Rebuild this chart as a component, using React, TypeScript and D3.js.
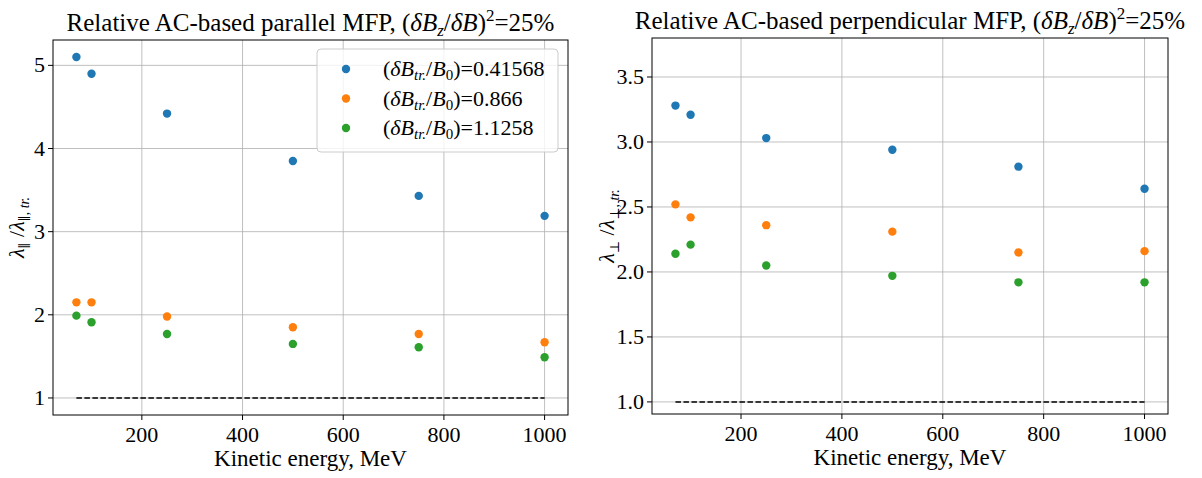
import React from "react";
import * as d3 from "d3";

const energies = [70, 100, 250, 500, 750, 1000];
const parBlue = [5.1, 4.9, 4.42, 3.85, 3.43, 3.19];
const parOrange = [2.15, 2.15, 1.98, 1.85, 1.77, 1.67];
const parGreen = [1.99, 1.91, 1.77, 1.65, 1.61, 1.49];
const perpBlue = [3.28, 3.21, 3.03, 2.94, 2.81, 2.64];
const perpOrange = [2.52, 2.42, 2.36, 2.31, 2.15, 2.16];
const perpGreen = [2.14, 2.21, 2.05, 1.97, 1.92, 1.92];
const xTicks = [200, 400, 600, 800, 1000];
const parYTicks = [1, 2, 3, 4, 5];
const perpYTicks = [1.0, 1.5, 2.0, 2.5, 3.0, 3.5];
const legendValues = ["0.41568", "0.866", "1.1258"];
const colors = ["#1f77b4", "#ff7f0e", "#2ca02c"];
const FONT = "'Liberation Serif', 'DejaVu Serif', serif";

function Panel({ left, right, top, bottom, yDomain, yTicks, fmt, series, title, ylabel, ylabelX, legend }: any) {
  const x = d3.scaleLinear().domain([23.5, 1046.5]).range([left, right]);
  const y = d3.scaleLinear().domain(yDomain).range([bottom, top]);
  const cx = (left + right) / 2;
  return (
    <g fontFamily={FONT} fill="#000">
      {xTicks.map((t) => (
        <g key={"x" + t}>
          <line x1={x(t)} x2={x(t)} y1={top} y2={bottom} stroke="#b0b0b0" strokeWidth={0.8} />
          <line x1={x(t)} x2={x(t)} y1={bottom} y2={bottom + 5} stroke="#000" />
          <text x={x(t)} y={bottom + 27} fontSize={22} textAnchor="middle">{t}</text>
        </g>
      ))}
      {yTicks.map((t: number) => (
        <g key={"y" + t}>
          <line x1={left} x2={right} y1={y(t)} y2={y(t)} stroke="#b0b0b0" strokeWidth={0.8} />
          <line x1={left - 5} x2={left} y1={y(t)} y2={y(t)} stroke="#000" />
          <text x={left - 8} y={y(t) + 7} fontSize={22} textAnchor="end">{fmt(t)}</text>
        </g>
      ))}
      <line x1={x(70)} x2={x(1000)} y1={y(1)} y2={y(1)} stroke="#000" strokeWidth={1.5} strokeDasharray="5.5,2.5" />
      {series.map((s: number[], i: number) =>
        s.map((v, j) => <circle key={i + "-" + j} cx={x(energies[j])} cy={y(v)} r={4.2} fill={colors[i]} />)
      )}
      <rect x={left} y={top} width={right - left} height={bottom - top} fill="none" stroke="#000" strokeWidth={1} />
      <text x={cx} y={bottom + 51} fontSize={23} textAnchor="middle">Kinetic energy, MeV</text>
      <text x={cx} y={top - 9} fontSize={25} textAnchor="middle">
        Relative AC-based {title} MFP, (<tspan fontStyle="italic">δB</tspan><tspan fontStyle="italic" fontSize={17} dy={5}>z</tspan><tspan dy={-5}>/</tspan><tspan fontStyle="italic">δB</tspan>)<tspan fontSize={17} dy={-10}>2</tspan><tspan dy={10}>=25%</tspan>
      </text>
      <g transform={`translate(${ylabelX},${(top + bottom) / 2}) rotate(-90)`}>
        <text x={0} y={0} fontSize={22} textAnchor="middle">
          <tspan fontStyle="italic">λ</tspan><tspan fontSize={13} dy={5}>{ylabel}</tspan><tspan dy={-5}> /</tspan><tspan fontStyle="italic">λ</tspan><tspan fontSize={13} dy={5}>{ylabel}</tspan><tspan fontSize={14} fontStyle="italic">, tr.</tspan>
        </text>
      </g>
      {legend && (
        <g>
          <rect x={317} y={49} width={241} height={103} rx={4} fill="#fff" fillOpacity={0.8} stroke="#ccc" />
          {legendValues.map((v, i) => (
            <g key={v}>
              <circle cx={346} cy={69 + i * 29.5} r={4.2} fill={colors[i]} />
              <text x={383} y={76 + i * 29.5} fontSize={22}>
                (<tspan fontStyle="italic">δB</tspan><tspan fontStyle="italic" fontSize={15} dy={4}>tr.</tspan><tspan dy={-4}>/</tspan><tspan fontStyle="italic">B</tspan><tspan fontSize={15} dy={4}>0</tspan><tspan dy={-4}>)={v}</tspan>
              </text>
            </g>
          ))}
        </g>
      )}
    </g>
  );
}

export default function App() {
  return (
    <svg width={1202} height={478} style={{ position: "absolute", left: 0, top: 0, background: "#fff" }}>
      <rect width={1202} height={478} fill="#fff" />
      <Panel left={53} right={568} top={40} bottom={415} yDomain={[0.795, 5.305]} yTicks={parYTicks}
        fmt={(t: number) => String(t)} series={[parBlue, parOrange, parGreen]} title="parallel" ylabel="∥" ylabelX={24} legend />
      <Panel left={652} right={1168} top={38} bottom={414} yDomain={[0.907, 3.8]} yTicks={perpYTicks}
        fmt={(t: number) => t.toFixed(1)} series={[perpBlue, perpOrange, perpGreen]} title="perpendicular" ylabel="⊥" ylabelX={614} />
    </svg>
  );
}
